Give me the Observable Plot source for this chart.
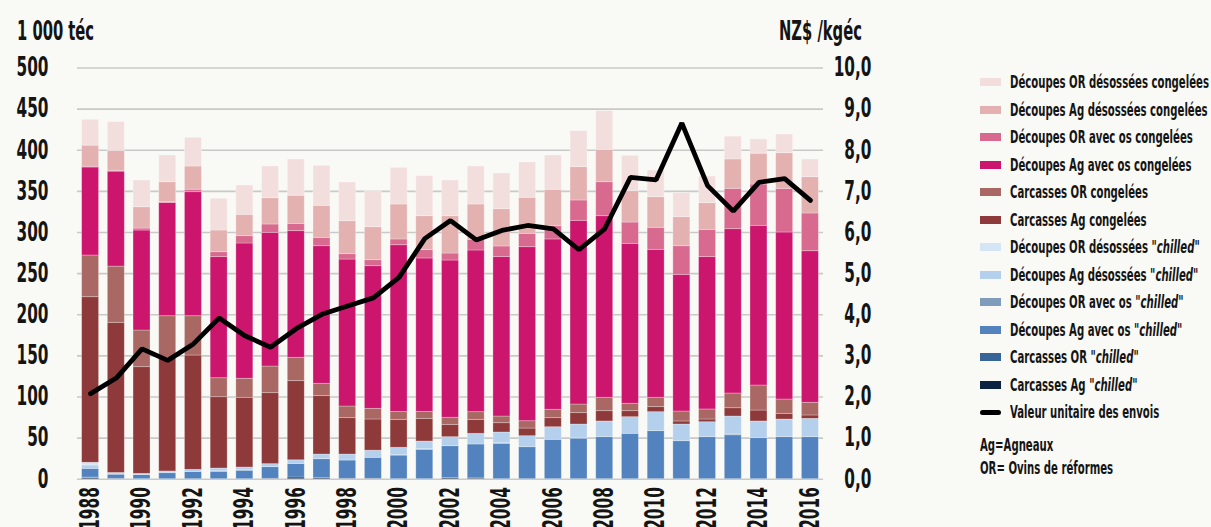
<!DOCTYPE html>
<html><head><meta charset="utf-8">
<script src="https://cdn.jsdelivr.net/npm/d3@7"></script>
<script src="https://cdn.jsdelivr.net/npm/@observablehq/plot@0.6"></script>
<style>
html,body{margin:0;padding:0;background:#f9f9f5;}
#wrap{position:relative;width:1211px;height:527px;overflow:hidden;background:#f9f9f5;
  font-family:'DejaVu Sans Condensed','DejaVu Sans',sans-serif;font-stretch:condensed;font-weight:bold;color:#141414;}
#wrap svg{position:absolute;left:0;top:0;}
.lbl{position:absolute;white-space:nowrap;transform-origin:0 0;transform:scaleX(0.63);}
.title{font-size:26px;line-height:26px;}
.row{position:absolute;left:980px;height:18px;width:231px;}
.sw{position:absolute;left:0;width:21px;height:8px;top:5px;}
.tx{position:absolute;left:30px;top:0;font-size:18px;line-height:18px;white-space:nowrap;transform-origin:0 0;transform:scaleX(0.625);}
.note{font-size:18px;line-height:18px;transform:scaleX(0.625);}
</style></head>
<body><div id="wrap"></div>
<script>
// ---- data ----
const years = [1988,1989,1990,1991,1992,1993,1994,1995,1996,1997,1998,1999,2000,2001,2002,2003,2004,2005,2006,2007,2008,2009,2010,2011,2012,2013,2014,2015,2016];
const yearTicks = [1988,1990,1992,1994,1996,1998,2000,2002,2004,2006,2008,2010,2012,2014,2016];
const leftTicks = [0,50,100,150,200,250,300,350,400,450,500];
const rightTicks = [0,1,2,3,4,5,6,7,8,9,10];

// series, bottom to top of the stack
const seriesNames = [
  'Carcasses Ag "chilled"',
  'Carcasses OR "chilled"',
  'Découpes Ag avec os "chilled"',
  'Découpes OR avec os "chilled"',
  'Découpes Ag désossées "chilled"',
  'Découpes OR désossées "chilled"',
  'Carcasses Ag congelées',
  'Carcasses OR congelées',
  'Découpes Ag avec os congelées',
  'Découpes OR avec os congelées',
  'Découpes Ag désossées congelées',
  'Découpes OR désossées congelées'
];
const seriesColors = ["#0b2240","#37659a","#5283be","#7f9dbb","#b5d0ec","#d6e5f6","#8e393a","#a96863","#cc166d","#d8698f","#e3b1af","#f3dede"];

const carcAgChilled   = [1.5,0.5,0,0,0,0,0,0.5,2,1.5,0.5,0.5,0,0,1.5,1,0,0,0,0,0,0,0,0,0,0,0,0,0];
const carcORChilled   = [0.5,0,0,0,0,0,0,0,0,0,0,0,0,0,0,0,0,0,0,0,0,0,0,0,0,0,0,0,0];
const decAgOsChilled  = [10.6,5,5,7.3,8.8,8.7,10.2,14.1,16.5,22.8,22.2,25.5,28.7,35.5,38.6,41.2,42.8,38.9,47.9,49.3,51.1,55.2,58.4,46.2,51.1,53.4,49.9,51.1,51.1];
const decOROsChilled  = [0,0,0,0,0,1,1,0,0,0,0,0,0.5,1,0,0,1,0,0,1,0,0,0,0,0,1,0,0,0];
const decAgDesChilled = [4.1,1.5,1.5,2.1,2.6,3.3,3,3.7,4.5,5.7,7.3,8.7,9,9.3,11,13,13,13.4,15.3,16.2,19.1,20.2,23.1,20.3,18.2,21.8,20.3,21.5,22.3];
const decORDesChilled = [3.3,0.5,0,0,0,0,0,0,0,0,0,0,0,0,0,0,0,0,0,0,0,0,0,0,0,0,0,0,0];
const carcAgCong      = [201.3,182.7,129.7,137.6,139,86.7,84.8,86.3,96.2,71,44.2,37.9,34,27.6,15,17,11.3,9.3,11,13.8,12.5,7.3,6.1,3.7,3.3,10.1,13.3,6.9,4.1];
const carcORCong      = [50.7,68.3,44.6,51.2,47.8,23.1,23.1,32.4,28.4,15,14.2,13,9.7,8.5,8.6,9.3,8.1,8.9,10.2,10.5,16.3,9,11.4,12.1,12.2,17.9,30.4,17.4,15.4];
const decAgOsCong     = [107,115.5,121.6,137.6,150.8,147.2,164.5,162.6,154,167.3,178.7,173.4,202.6,186.5,191.2,196.6,193.8,211.6,207.1,223.4,220.8,194.5,179.9,166.2,185.2,199.8,194.2,203.1,184.3];
const decOROsCong     = [1,1,2.4,1,3,6,8.9,10.1,8.9,10.2,6.5,7.3,7,10.1,8.5,13,13,16.3,16.1,24.7,41.3,25.9,26.8,34.8,33.2,49.1,50.2,53.1,45.9];
const decAgDesCong    = [25.6,24.3,25.9,24.3,28.2,26.4,26,32,34.2,38.9,40.1,40.1,42.5,41.3,45.4,42.9,45.3,43.8,44.3,40.5,39.4,38.1,37.2,35.3,32.4,35.7,37.5,43.3,44.1];
const decORDesCong    = [31.4,34.9,32.5,32.5,34.9,38.6,35.6,38.5,44.1,48.6,47.1,43.8,44.6,48.6,43.4,46.2,43.4,42.9,41.7,43.8,47,43,32.5,29.2,32.4,27.7,17.4,22.7,21.6];

const unitValue = [2.08,2.46,3.17,2.89,3.29,3.92,3.49,3.21,3.66,4.01,4.21,4.41,4.91,5.85,6.29,5.82,6.05,6.17,6.09,5.58,6.09,7.34,7.28,8.66,7.14,6.52,7.22,7.31,6.78];
const lineName = "Valeur unitaire des envois";

const leftTitle = "1 000 téc";
const rightTitle = "NZ$ /kgéc";
const notes = ["Ag=Agneaux", "OR= Ovins de réformes"];

// ---- build ----
const seriesValues = [carcAgChilled, carcORChilled, decAgOsChilled, decOROsChilled, decAgDesChilled, decORDesChilled,
                      carcAgCong, carcORCong, decAgOsCong, decOROsCong, decAgDesCong, decORDesCong];
const rows = [];
seriesNames.forEach((s, i) => years.forEach((yr, j) => rows.push({year: yr, series: s, value: seriesValues[i][j]})));
const lineRows = years.map((yr, j) => ({year: yr, v: unitValue[j]}));
const K = 500 / 10; // right axis (0-10) mapped onto left axis (0-500)

const FONT = "'DejaVu Sans Condensed','DejaVu Sans',sans-serif";
const chart = Plot.plot({
  width: 1211, height: 527,
  marginLeft: 77, marginRight: 388, marginTop: 67.5, marginBottom: 48.3,
  style: {background: "transparent", fontFamily: FONT, fontSize: "26px", fontWeight: "bold", color: "#141414", overflow: "visible"},
  x: {type: "band", domain: years, paddingInner: 0.34, paddingOuter: 0.18, round: false, axis: null},
  y: {domain: [0, 500], axis: null},
  color: {domain: seriesNames, range: seriesColors},
  marks: [
    Plot.gridY(leftTicks, {stroke: "#c9c9c9", strokeOpacity: 1, strokeWidth: 1.6}),
    Plot.barY(rows, {x: "year", y: "value", fill: "series", stroke: "#ffffff", strokeOpacity: 0.35, strokeWidth: 0.8}),
    Plot.line(lineRows, {x: "year", y: d => d.v * K, stroke: "#000", strokeWidth: 4.8, strokeLinejoin: "miter", strokeLinecap: "round"}),
    Plot.axisY(leftTicks, {anchor: "left", tickSize: 0, tickPadding: 29, label: null}),
    Plot.axisY(rightTicks.map(v => v * K), {anchor: "right", tickSize: 0, tickPadding: 3, textAnchor: "end", dx: 45, label: null,
      tickFormat: d => (d / K).toFixed(1).replace(".", ",")}),
    Plot.axisX(yearTicks, {anchor: "bottom", tickSize: 0, tickPadding: 8, tickRotate: -90, label: null, tickFormat: d => String(d)})
  ]
});

// condense all svg texts along their own writing direction
const SX = 0.655;
chart.querySelectorAll("text").forEach(t => {
  const tr = t.getAttribute("transform") || "";
  t.setAttribute("transform", `${tr} scale(${SX},1)`);
});

const wrap = document.getElementById("wrap");
wrap.appendChild(chart);

// titles
function addLabel(text, cls, style) {
  const d = document.createElement("div");
  d.className = "lbl " + cls;
  d.textContent = text;
  Object.assign(d.style, style);
  wrap.appendChild(d);
  return d;
}
addLabel(leftTitle, "title", {left: "17px", top: "18px"});
const rt = addLabel(rightTitle, "title", {left: "0px", top: "18px"});
const w = rt.getBoundingClientRect().width;
rt.style.left = (862 - w) + "px";

// legend (top-to-bottom = top of stack first)
function setLabelHTML(el, name) {
  const parts = name.split("chilled");
  if (parts.length === 2) {
    el.append(document.createTextNode(parts[0]));
    const i = document.createElement("i"); i.textContent = "chilled"; el.append(i);
    el.append(document.createTextNode(parts[1]));
  } else el.textContent = name;
}
const legendItems = seriesNames.map((s, i) => ({name: s, color: seriesColors[i]})).reverse();
legendItems.push({name: lineName, line: true});
legendItems.forEach((it, i) => {
  const row = document.createElement("div");
  row.className = "row";
  row.style.top = (73 + 27.5 * i) + "px";
  const sw = document.createElement("span");
  sw.className = "sw";
  if (it.line) { sw.style.background = "#000"; sw.style.height = "5px"; sw.style.top = "6.5px"; sw.style.borderRadius = "3px"; }
  else sw.style.background = it.color;
  const tx = document.createElement("span");
  tx.className = "tx";
  setLabelHTML(tx, it.name);
  row.append(sw, tx);
  wrap.appendChild(row);
});
notes.forEach((n, i) => {
  const d = document.createElement("div");
  d.className = "lbl note";
  d.style.left = "980px";
  d.style.top = (436 + 23 * i) + "px";
  d.textContent = n;
  wrap.appendChild(d);
});
</script></body></html>
